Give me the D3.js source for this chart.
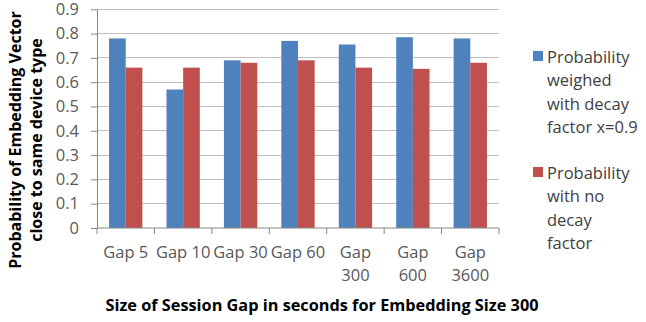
<!DOCTYPE html>
<html><head><meta charset="utf-8">
<script src="https://cdn.jsdelivr.net/npm/d3@7"></script>
<style>body{margin:0;background:#fff}svg{display:block}</style>
</head><body>
<svg id="chart" width="646" height="322"></svg>
<script>
const categories = ["Gap 5","Gap 10","Gap 30","Gap 60","Gap 300","Gap 600","Gap 3600"];
const seriesWeighed = [0.78,0.57,0.69,0.77,0.755,0.785,0.78];
const seriesNoDecay = [0.66,0.66,0.68,0.69,0.66,0.655,0.68];
const seriesNames = ["Probability weighed with decay factor x=0.9","Probability with no decay factor"];
const legendLines = [["Probability","weighed","with decay","factor x=0.9"],["Probability","with no","decay","factor"]];
const yTicks = [0,0.1,0.2,0.3,0.4,0.5,0.6,0.7,0.8,0.9];
const xTitle = "Size of Session Gap in seconds for Embedding Size 300";
const yTitleLines = ["Probability of Embedding Vector","close to same device type"];
const colors = ["#4F81BD","#C0504D"];

const svg = d3.select("#chart");
const font = "'Open Sans', sans-serif";
const L = 97, R = 499, T = 9.3, B = 228;

const x = d3.scaleBand().domain(categories).range([L, R]).paddingInner(0.42).paddingOuter(0.21);
const x1 = d3.scaleBand().domain([0,1]).range([0, x.bandwidth()]);
const y = d3.scaleLinear().domain([0,0.9]).range([B, T]);

// gridlines
svg.append("g").selectAll("line").data(yTicks.filter(d=>d>0)).join("line")
  .attr("x1", L).attr("x2", R).attr("y1", d=>y(d)).attr("y2", d=>y(d))
  .attr("stroke", "#bfbfbf").attr("stroke-width", 1).attr("shape-rendering","crispEdges");

// bars
const series = [seriesWeighed, seriesNoDecay];
const g = svg.append("g");
series.forEach((vals, si) => {
  g.selectAll(null).data(categories).join("rect")
    .attr("x", d => x(d) + x1(si))
    .attr("width", x1.bandwidth())
    .attr("y", (d,i) => y(vals[i]))
    .attr("height", (d,i) => B - y(vals[i]))
    .attr("fill", colors[si]);
});

// y axis
const yAxis = d3.axisLeft(y).tickValues(yTicks).tickFormat(d => d === 0 ? "0" : d3.format(".1f")(d)).tickSizeInner(6).tickSizeOuter(0).tickPadding(12);
const ya = svg.append("g").attr("transform", `translate(${L},0)`).call(yAxis);
ya.select(".domain").attr("stroke", "#868686");
ya.selectAll(".tick line").attr("stroke", "#868686");
ya.selectAll(".tick text").attr("font-family", font).attr("font-size", 16.5).attr("fill", "#595959");

// x axis
const xs = d3.scalePoint().domain(d3.range(categories.length + 1)).range([L, R]);
const xa = svg.append("g").attr("transform", `translate(0,${B})`);
xa.append("line").attr("x1", L).attr("x2", R).attr("y1", 0).attr("y2", 0).attr("stroke", "#868686");
xa.selectAll("line.tk").data(d3.range(categories.length + 1)).join("line").attr("class","tk")
  .attr("x1", d=>xs(d)).attr("x2", d=>xs(d)).attr("y1", 0).attr("y2", 6).attr("stroke", "#868686");
categories.forEach((c) => {
  const lines = c.length > 6 ? c.split(" ") : [c];
  const t = xa.append("text").attr("text-anchor", "middle").attr("font-family", font)
    .attr("font-size", 16.5).attr("fill", "#595959");
  lines.forEach((ln, j) => {
    t.append("tspan").attr("x", x(c) + x.bandwidth()/2).attr("y", 30 + j*23).text(ln);
  });
});

// axis titles
svg.append("text").attr("x", 322).attr("y", 311).attr("text-anchor", "middle")
  .attr("font-family", font).attr("font-weight", "bold").attr("font-size", 16.3).attr("fill", "#000")
  .text(xTitle);
const yt = svg.append("text").attr("transform", "translate(0,140) rotate(-90)")
  .attr("text-anchor", "middle").attr("font-family", font).attr("font-weight", "bold")
  .attr("font-size", 16).attr("fill", "#000");
yTitleLines.forEach((ln, j) => {
  yt.append("tspan").attr("x", 0).attr("y", 21 + j*21).text(ln);
});

// legend
const lg = svg.append("g");
const legendY = [51, 167];
seriesNames.forEach((name, i) => {
  lg.append("rect").attr("x", 533).attr("y", legendY[i]).attr("width", 10).attr("height", 10).attr("fill", colors[i]);
  const t = lg.append("text").attr("font-family", font).attr("font-size", 16.5).attr("fill", "#404040");
  legendLines[i].forEach((ln, j) => {
    t.append("tspan").attr("x", 547).attr("y", legendY[i] + 12 + j*23.3).text(ln);
  });
});
</script>
</body></html>
